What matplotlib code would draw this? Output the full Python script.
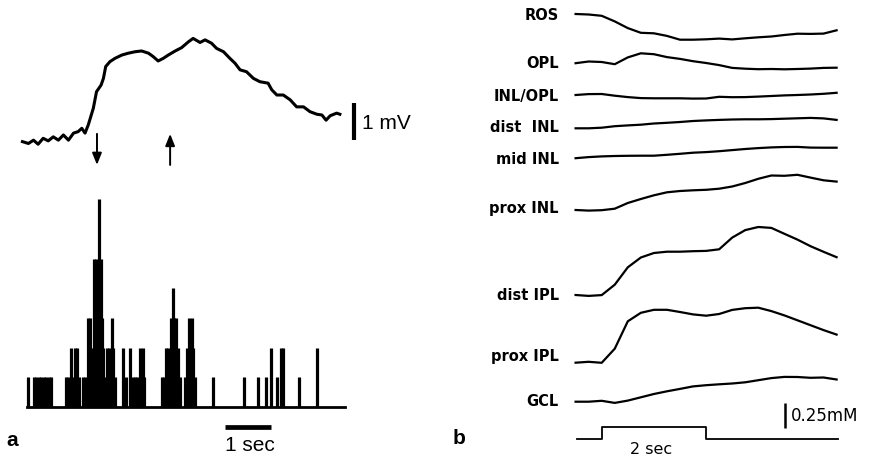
import numpy as np
import matplotlib
matplotlib.use('agg')
import matplotlib.pyplot as plt

plt.rcParams['font.family'] = ['Liberation Sans', 'DejaVu Sans']

# ---- panel a: extracellular potential (mV) vs time (s) ----
va_t = [0.01, 0.14, 0.25, 0.35, 0.46, 0.57, 0.68, 0.79, 0.90, 1.01,
        1.12, 1.22, 1.30, 1.37, 1.44, 1.55, 1.62, 1.72, 1.77, 1.82,
        1.91, 2.02, 2.17, 2.31, 2.46, 2.60, 2.75, 2.85, 2.96, 3.07,
        3.18, 3.33, 3.47, 3.62, 3.72, 3.87, 3.98, 4.12, 4.23, 4.38,
        4.52, 4.63, 4.74, 4.88, 5.03, 5.17, 5.35, 5.43, 5.54, 5.68,
        5.83, 5.97, 6.12, 6.26, 6.41, 6.52, 6.61, 6.70, 6.84, 6.91]
va_mv = [0.01, -0.04, 0.05, -0.06, 0.10, 0.03, 0.14, 0.05, 0.19, 0.05,
         0.24, 0.28, 0.37, 0.24, 0.46, 0.91, 1.36, 1.54, 1.72, 2.04,
         2.17, 2.26, 2.35, 2.40, 2.44, 2.46, 2.40, 2.31, 2.19, 2.26,
         2.35, 2.46, 2.55, 2.71, 2.80, 2.69, 2.76, 2.67, 2.53, 2.44,
         2.26, 2.13, 1.95, 1.90, 1.72, 1.63, 1.59, 1.41, 1.27, 1.27,
         1.14, 0.95, 0.95, 0.82, 0.75, 0.73, 0.59, 0.71, 0.78, 0.75]
stim_on_a = 1.63
stim_off_a = 3.22

# spike record: time (s) and amplitude level (superposed spikes)
spike_t = [0.12, 0.26, 0.30, 0.38, 0.41, 0.48, 0.52, 0.59, 0.62,
           0.95, 1.01, 1.06, 1.12, 1.15, 1.20, 1.25, 1.32, 1.37,
           1.44, 1.48, 1.52, 1.57, 1.61, 1.64, 1.68, 1.71, 1.75, 1.77,
           1.83, 1.85, 1.90, 1.95, 1.98, 2.02,
           2.20, 2.26, 2.35, 2.41, 2.46, 2.51, 2.57, 2.62, 2.65,
           3.04, 3.09, 3.13, 3.18, 3.23, 3.28, 3.30, 3.35, 3.40, 3.43,
           3.54, 3.59, 3.64, 3.69, 3.72, 3.76,
           4.16, 4.83, 5.12, 5.30, 5.41, 5.54, 5.63, 5.68, 6.02, 6.41]
spike_n = [1, 1, 1, 1, 1, 1, 1, 1, 1,
           1, 1, 2, 1, 2, 2, 1, 1, 1,
           3, 3, 2, 5, 5, 3, 7, 5, 3, 2,
           1, 2, 2, 3, 2, 1,
           2, 1, 2, 1, 1, 1, 2, 2, 1,
           1, 1, 2, 2, 3, 4, 3, 3, 2, 1,
           1, 2, 3, 3, 2, 1,
           1, 1, 1, 1, 2, 1, 2, 2, 1, 2]
raster_span = [0.11, 7.02]

# ---- panel b: K+ concentration change (mM) at each retinal depth ----
tb = [-0.5, -0.25, 0.0, 0.25, 0.5, 0.75, 1.0, 1.25, 1.5, 1.75, 2.0,
      2.25, 2.5, 2.75, 3.0, 3.25, 3.5, 3.75, 4.0, 4.25, 4.5]
layers = ['ROS', 'OPL', 'INL/OPL', 'dist  INL', 'mid INL', 'prox INL',
          'dist IPL', 'prox IPL', 'GCL']
k_ros = [0, -0.005, -0.018, -0.074, -0.141, -0.188, -0.193, -0.219, -0.257, -0.257, -0.253,
         -0.246, -0.254, -0.243, -0.233, -0.225, -0.21, -0.197, -0.199, -0.196, -0.163]
k_opl = [0, 0.017, 0.012, -0.01, 0.058, 0.099, 0.09, 0.061, 0.043, 0.02, 0.002,
         -0.019, -0.047, -0.055, -0.06, -0.058, -0.061, -0.058, -0.054, -0.047, -0.045]
k_inlopl = [0, 0.009, 0.01, -0.007, -0.021, -0.031, -0.033, -0.033, -0.033, -0.036, -0.035,
            -0.018, -0.022, -0.021, -0.016, -0.01, -0.004, 0, 0.005, 0.012, 0.022]
k_dist_inl = [0, 0, 0.006, 0.021, 0.029, 0.036, 0.048, 0.055, 0.063, 0.073, 0.079,
              0.084, 0.088, 0.09, 0.09, 0.092, 0.096, 0.1, 0.104, 0.099, 0.084]
k_mid_inl = [0, 0.011, 0.018, 0.022, 0.024, 0.025, 0.025, 0.034, 0.044, 0.055, 0.061,
             0.07, 0.081, 0.092, 0.101, 0.108, 0.112, 0.113, 0.106, 0.105, 0.105]
k_prox_inl = [0, -0.006, -0.002, 0.013, 0.07, 0.11, 0.147, 0.177, 0.19, 0.197, 0.202,
              0.213, 0.235, 0.27, 0.312, 0.345, 0.342, 0.352, 0.324, 0.297, 0.284]
k_dist_ipl = [0, -0.009, -0.001, 0.103, 0.277, 0.375, 0.42, 0.433, 0.433, 0.438, 0.441,
              0.457, 0.574, 0.649, 0.68, 0.671, 0.612, 0.554, 0.488, 0.432, 0.378]
k_prox_ipl = [0, 0.009, -0.001, 0.14, 0.414, 0.499, 0.529, 0.529, 0.507, 0.483, 0.47,
              0.487, 0.528, 0.545, 0.55, 0.516, 0.473, 0.424, 0.375, 0.326, 0.281]
k_gcl = [0, 0, 0.009, -0.012, 0.011, 0.044, 0.077, 0.104, 0.128, 0.153, 0.165,
         0.174, 0.182, 0.194, 0.215, 0.236, 0.248, 0.247, 0.239, 0.242, 0.222]
k_traces = [k_ros, k_opl, k_inlopl, k_dist_inl, k_mid_inl, k_prox_inl,
            k_dist_ipl, k_prox_ipl, k_gcl]
stim_t = [-0.48, 0, 0, 2, 2, 4.52]
stim_state = [0, 0, 1, 1, 0, 0]

# layout (figure is 870x458 px)
W, H = 870, 458
trace_base = [14, 63.2, 95, 128.3, 158.2, 210, 295, 362.7, 401.7]   # px
label_y = [16, 63, 97, 128, 160, 208, 296, 356, 402]                # px

fig = plt.figure(figsize=(W / 100, H / 100), dpi=100)


def overlay(x0_px, px_per_x, y0_px, px_per_y):
    # full-figure transparent axes; data origin at pixel (x0_px, y0_px), y up
    ax = fig.add_axes([0, 0, 1, 1])
    ax.set_xlim(-x0_px / px_per_x, (W - x0_px) / px_per_x)
    ax.set_ylim((y0_px - H) / px_per_y, y0_px / px_per_y)
    ax.axis('off')
    return ax


# voltage trace
ax_v = overlay(22, 46, 142, 37)
ax_v.plot(va_t, va_mv, color='k', lw=2.2, solid_joinstyle='round')
for t, (top, bot) in [(stim_on_a, (0.22, -0.62)), (stim_off_a, (-0.62, 0.22))]:
    ax_v.annotate('', xy=(t, bot), xytext=(t, top),
                  arrowprops=dict(arrowstyle='-|>,head_length=0.7,head_width=0.28',
                                  lw=1.4, color='k', shrinkA=0, shrinkB=0))
ax_v.plot([7.22, 7.22], [0.05, 1.05], color='k', lw=3, solid_capstyle='butt')
ax_v.text(7.39, 0.51, '1 mV', fontsize=15, ha='left', va='center')

# spike record
ax_s = overlay(22, 46, 407, 29.7)
ax_s.vlines(spike_t, 0, spike_n, color='k', lw=2.3)
ax_s.plot(raster_span, [0, 0], color='k', lw=2.0)
ax_s.plot([4.41, 5.41], [-0.66, -0.66], color='k', lw=3.4, solid_capstyle='butt')
ax_s.text(4.96, -1.28, '1 sec', fontsize=15, ha='center', va='center')

# panel b
ax_b = overlay(601.7, 52.2, 0, 100)
for name, k, base, ly in zip(layers, k_traces, trace_base, label_y):
    ax_b.plot(tb, -base / 100 + np.array(k), color='k', lw=1.6)
    ax_b.text(-0.82, -ly / 100, name, fontsize=10.5, ha='right', va='center',
              family=['DejaVu Sans'], fontweight='bold')
ax_b.plot(stim_t, -4.39 + 0.12 * np.array(stim_state), color='k', lw=1.3)
ax_b.text(0.94, -4.49, '2 sec', fontsize=11.5, ha='center', va='center',
          family=['DejaVu Sans'])
ax_b.plot([3.51, 3.51], [-4.28, -4.03], color='k', lw=1.8, solid_capstyle='butt')
ax_b.text(3.63, -4.16, '0.25mM', fontsize=12, ha='left', va='center',
          family=['DejaVu Sans'])

fig.text(12 / W, 1 - 441 / H, 'a', fontsize=15, fontweight='bold', ha='center', va='center')
fig.text(459 / W, 1 - 439 / H, 'b', fontsize=15, fontweight='bold', ha='center', va='center')

plt.savefig('out.png', dpi=100)
plt.close()
